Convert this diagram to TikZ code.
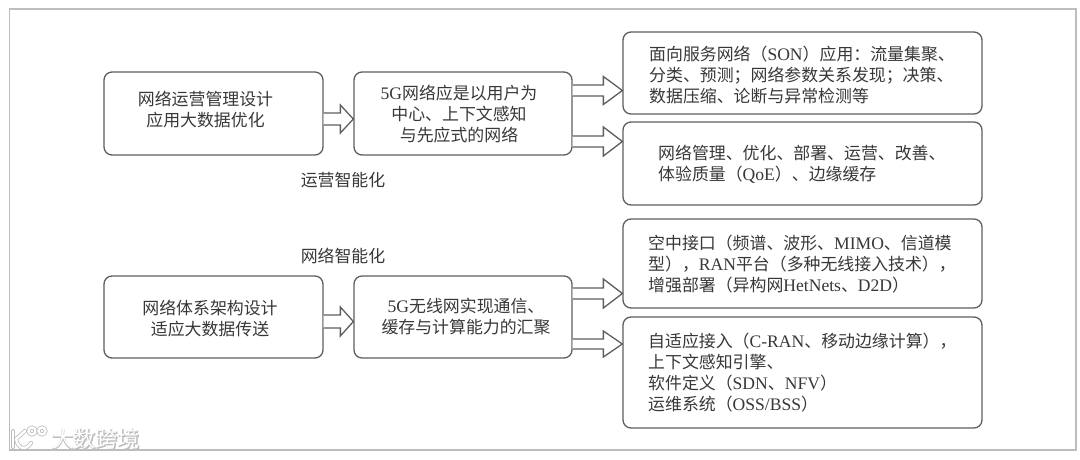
\documentclass[tikz,border=0pt]{standalone}
\usepackage{fontspec}
\setmainfont{Liberation Serif}
\newfontfamily\cjk{Noto Sans CJK SC}
\newfontfamily\cjkwm[FakeBold=4]{Noto Sans CJK SC}
\newcommand{\lat}[1]{{\rmfamily\fontsize{17.6}{21}\selectfont #1}}
\definecolor{inkc}{HTML}{383838}
\definecolor{linec}{HTML}{5E5E5E}
\definecolor{framec}{HTML}{BDBDBD}
\tikzset{
  boxn/.style={draw=linec,line width=1.3pt,rounded corners=8pt,fill=white,inner sep=0pt},
  txtn/.style={inner sep=0pt,text=inkc,font=\cjk\fontsize{16.9}{21}\selectfont,align=center},
  ltxt/.style={txtn,align=left,anchor=west},
  fatarr/.style={draw=linec,line width=1.3pt,line join=miter,fill=white},
  logoline/.style={draw=framec,line width=0.8pt,double=white,double distance=2.4pt,line cap=round},
}
% from, to, tip y, half shaft, half head, head length
\newcommand{\fatarrow}[6]{%
  \coordinate (tip) at (#2.west |- 0,#3);
  \coordinate (base) at (#1.east |- 0,#3);
  \draw[fatarr] ([shift={(0,-#4)}]base) -- ([shift={(-#6,-#4)}]tip) -- ([shift={(-#6,-#5)}]tip)
    -- (tip) -- ([shift={(-#6,#5)}]tip) -- ([shift={(-#6,#4)}]tip) -- ([shift={(0,#4)}]base);}
\begin{document}
\begin{tikzpicture}[x=1pt,y=-1pt]
\useasboundingbox (0,0) rectangle (1080,459);
\fill[white] (0,0) rectangle (1080,459);
\draw[framec,line width=1.5pt] (9.5,9) rectangle (1076,450);

\node[boxn,minimum width=219pt,minimum height=83pt] (a1) at (213.5,113.5) {};
\node[boxn,minimum width=218pt,minimum height=83pt] (a2) at (463,113.5) {};
\node[boxn,minimum width=219pt,minimum height=82pt] (b1) at (213.5,317) {};
\node[boxn,minimum width=218pt,minimum height=82pt] (b2) at (463,317) {};
\node[boxn,minimum width=359pt,minimum height=82pt] (r1) at (802.5,73) {};
\node[boxn,minimum width=359pt,minimum height=83pt] (r2) at (802.5,163.5) {};
\node[boxn,minimum width=359pt,minimum height=89pt] (r3) at (802.5,263.5) {};
\node[boxn,minimum width=359pt,minimum height=111pt] (r4) at (802.5,372.5) {};

\fatarrow{a1}{a2}{119}{6}{14}{13}
\fatarrow{a2}{r1}{90.5}{5.5}{14}{19}
\fatarrow{a2}{r2}{141.5}{5.5}{14.5}{19}
\fatarrow{b1}{b2}{321.5}{6.5}{14.5}{13}
\fatarrow{b2}{r3}{293.5}{5.5}{14.5}{19}
\fatarrow{b2}{r4}{344}{5}{13}{19}

\node[txtn] (t1) at (205.5,110) {网络运营管理设计\\应用大数据优化};
\node[txtn] (t2) at (459,114) {\lat{5G}网络应是以用户为\\中心、上下文感知\\与先应式的网络};
\node[txtn] (t3) at (210,319) {网络体系架构设计\\适应大数据传送};
\node[txtn] (t4) at (466,316.5) {\lat{5G}无线网实现通信、\\缓存与计算能力的汇聚};
\node[ltxt] (t5) at (649,75) {面向服务网络（\lat{SON}）应用：流量集聚、\\分类、预测；网络参数关系发现；决策、\\数据压缩、论断与异常检测等};
\node[ltxt] (t6) at (658,164) {网络管理、优化、部署、运营、改善、\\体验质量（\lat{QoE}）、边缘缓存};
\node[ltxt] (t7) at (648,264) {空中接口（频谱、波形、\lat{MIMO}、信道模\\型），\lat{RAN}平台（多种无线接入技术），\\增强部署（异构网\lat{HetNets}、\lat{D2D}）};
\node[ltxt] (t8) at (648,373) {自适应接入（\lat{C-RAN}、移动边缘计算），\\上下文感知引擎、\\软件定义（\lat{SDN}、\lat{NFV}）\\运维系统（\lat{OSS/BSS}）};
\node[txtn] (l1) at (343,180) {运营智能化};
\node[txtn] (l2) at (343,256) {网络智能化};

% watermark
\draw[logoline] (13,431) -- (13,447);
\draw[logoline] (25,431) -- (16,439) .. controls (18,449) and (26,451) .. (31,443);
\draw[logoline] (32,431) circle (3.5pt);
\draw[logoline] (42,431) circle (3.5pt);
\node[inner sep=0pt,text=framec,font=\cjkwm\fontsize{22}{22}\selectfont] (wa) at (96,439.5) {大数跨境};
\node[inner sep=0pt,text=white,font=\cjk\fontsize{22}{22}\selectfont] (wb) at (96,439.5) {大数跨境};
\end{tikzpicture}
\end{document}
